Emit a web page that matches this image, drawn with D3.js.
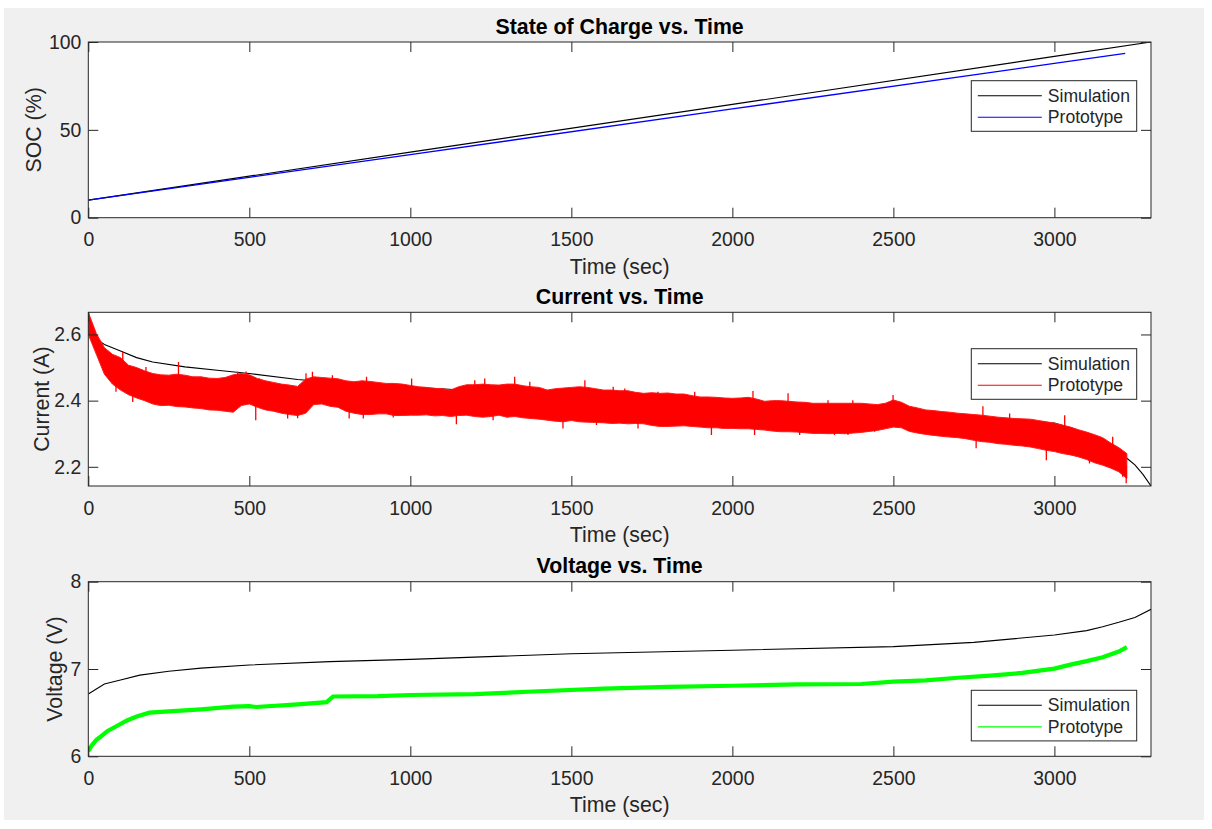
<!DOCTYPE html>
<html>
<head>
<meta charset="utf-8">
<script src="https://cdn.jsdelivr.net/npm/d3@7"></script>
<style>
  html, body { margin: 0; padding: 0; background: #ffffff; }
  svg { display: block; font-family: "Liberation Sans", Arial, Helvetica, sans-serif; }
</style>
</head>
<body>
<svg id="fig" width="1212" height="829"></svg>
<script>
// ---------- shared time axis ----------
const timeDomain = [0, 3300];
const timeTicks = [0, 500, 1000, 1500, 2000, 2500, 3000];

// ---------- State of charge (%) ----------
const socSimTime = [0, 1000, 2000, 3000, 3300];
const socSimValue = [10, 37.3, 64.5, 91.8, 100];
const socProtoTime = [0, 1000, 2000, 3000, 3220];
const socProtoValue = [10, 35.9, 61.9, 87.8, 93.5];
const socTicks = [0, 50, 100];

// ---------- Current (A) ----------
const curSimTime = [0, 50, 100, 150, 200, 300, 400, 500, 650, 800, 1000, 1200, 1500, 1800, 2000, 2300, 2500, 2800, 3000, 3050, 3100, 3150, 3200, 3225, 3250, 3275, 3300];
const curSimValue = [2.603, 2.570, 2.550, 2.530, 2.517, 2.502, 2.492, 2.482, 2.464, 2.452, 2.441, 2.430, 2.416, 2.403, 2.392, 2.376, 2.365, 2.348, 2.332, 2.318, 2.300, 2.278, 2.246, 2.226, 2.206, 2.177, 2.142];
// prototype current is noisy: upper and lower envelope of the dense trace
const curProtoTime = [
  0, 25, 50, 75, 100, 125, 150, 175, 200, 225, 250, 275, 300, 325, 350, 375, 400, 425, 450, 475,
  500, 525, 550, 575, 600, 625, 650, 675, 700, 725, 750, 775, 800, 825, 850, 875, 900, 925, 950, 975,
  1000, 1025, 1050, 1075, 1100, 1125, 1150, 1175, 1200, 1225, 1250, 1275, 1300, 1325, 1350, 1375, 1400, 1425, 1450, 1475,
  1500, 1525, 1550, 1575, 1600, 1625, 1650, 1675, 1700, 1725, 1750, 1775, 1800, 1825, 1850, 1875, 1900, 1925, 1950, 1975,
  2000, 2025, 2050, 2075, 2100, 2125, 2150, 2175, 2200, 2225, 2250, 2275, 2300, 2325, 2350, 2375, 2400, 2425, 2450, 2475,
  2500, 2525, 2550, 2575, 2600, 2625, 2650, 2675, 2700, 2725, 2750, 2775, 2800, 2825, 2850, 2875, 2900, 2925, 2950, 2975,
  3000, 3025, 3050, 3075, 3100, 3125, 3150, 3175, 3200, 3225
];
const curProtoHigh = [
  2.667, 2.603, 2.560, 2.540, 2.530, 2.507, 2.500, 2.490, 2.482, 2.478, 2.477, 2.480, 2.477, 2.472, 2.472, 2.468, 2.467, 2.470, 2.478, 2.482,
  2.478, 2.467, 2.460, 2.455, 2.450, 2.447, 2.443, 2.465, 2.472, 2.470, 2.468, 2.466, 2.460, 2.457, 2.460, 2.458, 2.455, 2.452, 2.452, 2.450,
  2.446, 2.442, 2.440, 2.437, 2.436, 2.432, 2.442, 2.448, 2.448, 2.450, 2.448, 2.447, 2.450, 2.450, 2.445, 2.442, 2.440, 2.432, 2.436, 2.438,
  2.440, 2.442, 2.440, 2.436, 2.432, 2.432, 2.430, 2.430, 2.425, 2.422, 2.424, 2.422, 2.423, 2.420, 2.420, 2.415, 2.411, 2.411, 2.410, 2.408,
  2.407, 2.408, 2.410, 2.405, 2.398, 2.400, 2.400, 2.398, 2.396, 2.395, 2.392, 2.392, 2.392, 2.392, 2.392, 2.392, 2.392, 2.390, 2.388, 2.392,
  2.402, 2.395, 2.383, 2.378, 2.372, 2.370, 2.367, 2.365, 2.362, 2.360, 2.358, 2.356, 2.353, 2.350, 2.348, 2.346, 2.345, 2.344, 2.340, 2.336,
  2.332, 2.326, 2.320, 2.312, 2.305, 2.297, 2.288, 2.272, 2.258, 2.240
];
const curProtoLow = [
  2.600, 2.540, 2.480, 2.450, 2.432, 2.418, 2.408, 2.400, 2.390, 2.385, 2.386, 2.382, 2.381, 2.378, 2.376, 2.372, 2.371, 2.368, 2.365, 2.385,
  2.390, 2.380, 2.372, 2.368, 2.362, 2.358, 2.355, 2.362, 2.388, 2.390, 2.383, 2.380, 2.368, 2.362, 2.358, 2.358, 2.360, 2.360, 2.355, 2.355,
  2.356, 2.356, 2.357, 2.354, 2.355, 2.352, 2.355, 2.356, 2.352, 2.350, 2.352, 2.356, 2.350, 2.352, 2.348, 2.346, 2.344, 2.341, 2.338, 2.336,
  2.340, 2.336, 2.335, 2.334, 2.333, 2.331, 2.332, 2.330, 2.331, 2.330, 2.325, 2.322, 2.322, 2.323, 2.324, 2.322, 2.320, 2.318, 2.318, 2.316,
  2.316, 2.315, 2.315, 2.313, 2.311, 2.308, 2.306, 2.306, 2.305, 2.303, 2.301, 2.301, 2.300, 2.301, 2.300, 2.302, 2.304, 2.307, 2.310, 2.315,
  2.320, 2.318, 2.307, 2.302, 2.298, 2.295, 2.292, 2.290, 2.288, 2.285, 2.280, 2.276, 2.274, 2.270, 2.268, 2.265, 2.263, 2.260, 2.255, 2.250,
  2.246, 2.240, 2.236, 2.230, 2.222, 2.212, 2.205, 2.196, 2.185, 2.165
];
// isolated excursions of the prototype current beyond the envelope
const curSpikeTime = [
  86, 107, 117, 138, 179, 280, 464, 490, 520, 531, 619, 650, 676, 696, 758, 810,
  854, 864, 947, 1004, 1143, 1200, 1231, 1257, 1324, 1371, 1474, 1542, 1578, 1630,
  1666, 1707, 1769, 1883, 1935, 2064, 2069, 2173, 2209, 2297, 2317, 2359, 2374, 2442,
  2499, 2757, 2778, 2861, 2975, 3032, 3109, 3181, 3212, 3223
];
const curSpikeValue = [
  2.427, 2.547, 2.427, 2.396, 2.502, 2.517, 2.487, 2.488, 2.341, 2.467, 2.346, 2.347, 2.483, 2.487, 2.477, 2.346,
  2.346, 2.472, 2.349, 2.467, 2.329, 2.462, 2.467, 2.341, 2.472, 2.457, 2.316, 2.462, 2.326, 2.442,
  2.437, 2.316, 2.427, 2.427, 2.296, 2.429, 2.296, 2.422, 2.296, 2.401, 2.296, 2.296, 2.401, 2.306,
  2.417, 2.256, 2.383, 2.361, 2.220, 2.356, 2.210, 2.291, 2.170, 2.150
];
const curDomain = [2.142, 2.667];
const curTicks = [2.2, 2.4, 2.6];

// ---------- Voltage (V) ----------
const voltSimTime = [0, 50, 100, 160, 250, 350, 500, 750, 1000, 1500, 2000, 2500, 2750, 3000, 3100, 3150, 3200, 3250, 3300];
const voltSimValue = [6.714, 6.828, 6.875, 6.930, 6.975, 7.010, 7.046, 7.084, 7.110, 7.175, 7.215, 7.256, 7.305, 7.389, 7.440, 7.485, 7.535, 7.590, 7.684];
const voltProtoTime = [0, 10, 25, 40, 60, 90, 120, 150, 190, 250, 350, 450, 500, 520, 650, 740, 760, 900, 1000, 1200, 1400, 1600, 1800, 2000, 2200, 2400, 2500, 2600, 2700, 2800, 2900, 3000, 3050, 3100, 3150, 3200, 3225];
const voltProtoValue = [6.060, 6.120, 6.190, 6.230, 6.290, 6.350, 6.410, 6.455, 6.500, 6.515, 6.538, 6.568, 6.575, 6.565, 6.595, 6.620, 6.685, 6.690, 6.702, 6.712, 6.745, 6.775, 6.795, 6.808, 6.825, 6.828, 6.855, 6.870, 6.900, 6.925, 6.955, 7.005, 7.050, 7.090, 7.135, 7.200, 7.250];
const voltDomain = [6, 8];
const voltTicks = [6, 7, 8];

const legendNames = ["Simulation", "Prototype"];

// ---------- figure layout ----------
const svg = d3.select("#fig");
const AX = "#262626";
const FONT_TICK = 19.4, FONT_LABEL = 21.3, FONT_TITLE = 21.3, FONT_LEGEND = 17.6;

svg.append("rect").attr("x", 4).attr("y", 8).attr("width", 1200).attr("height", 812).attr("fill", "#f0f0f0");

const plotLeft = 88.3, plotRight = 1151;
const x = d3.scaleLinear().domain(timeDomain).range([plotLeft, plotRight]);

const panels = [
  {
    id: "soc", top: 42, bottom: 217.7, domain: [0, 100], ticks: socTicks, fmt: d3.format("d"),
    title: "State of Charge vs. Time", ylabel: "SOC (%)", ylabelX: 41,
    protoColor: "#0000ff", legendTop: 80.7,
    draw: (g, y) => {
      const line = d3.line().x(d => x(d[0])).y(d => y(d[1]));
      g.append("path").datum(d3.zip(socSimTime, socSimValue)).attr("d", line)
        .attr("fill", "none").attr("stroke", "#000").attr("stroke-width", 1.1);
      g.append("path").datum(d3.zip(socProtoTime, socProtoValue)).attr("d", line)
        .attr("fill", "none").attr("stroke", "#0000ff").attr("stroke-width", 1.3);
    }
  },
  {
    id: "cur", top: 312.3, bottom: 486, domain: curDomain, ticks: curTicks, fmt: d3.format(".1f"),
    title: "Current vs. Time", ylabel: "Current (A)", ylabelX: 48.5,
    protoColor: "#ff0000", legendTop: 348.7,
    draw: (g, y) => {
      const line = d3.line().x(d => x(d[0])).y(d => y(d[1]));
      g.append("path").datum(d3.zip(curSimTime, curSimValue)).attr("d", line)
        .attr("fill", "none").attr("stroke", "#000").attr("stroke-width", 1.1);
      const band = d3.area().x(d => x(d[0])).y0(d => y(d[2])).y1(d => y(d[1]));
      g.append("path").datum(d3.zip(curProtoTime, curProtoHigh, curProtoLow)).attr("d", band)
        .attr("fill", "#ff0000").attr("stroke", "#ff1a1a").attr("stroke-width", 1).attr("stroke-linejoin", "miter");
      // spikes run from the middle of the envelope out to their reading
      const hiAt = d3.scaleLinear().domain(curProtoTime).range(curProtoHigh);
      const loAt = d3.scaleLinear().domain(curProtoTime).range(curProtoLow);
      g.append("g").selectAll("line").data(d3.zip(curSpikeTime, curSpikeValue)).join("line")
        .attr("x1", d => x(d[0])).attr("x2", d => x(d[0]))
        .attr("y1", d => y((hiAt(d[0]) + loAt(d[0])) / 2)).attr("y2", d => y(d[1]))
        .attr("stroke", "#ff0000").attr("stroke-width", 1.3);
    }
  },
  {
    id: "volt", top: 581.7, bottom: 756.3, domain: voltDomain, ticks: voltTicks, fmt: d3.format("d"),
    title: "Voltage vs. Time", ylabel: "Voltage (V)", ylabelX: 62,
    protoColor: "#00ff00", legendTop: 690.3,
    draw: (g, y) => {
      const line = d3.line().x(d => x(d[0])).y(d => y(d[1]));
      g.append("path").datum(d3.zip(voltSimTime, voltSimValue)).attr("d", line)
        .attr("fill", "none").attr("stroke", "#000").attr("stroke-width", 1.1);
      g.append("path").datum(d3.zip(voltProtoTime, voltProtoValue)).attr("d", line)
        .attr("fill", "none").attr("stroke", "#00ff00").attr("stroke-width", 4.2);
    }
  }
];

panels.forEach(p => {
  const y = d3.scaleLinear().domain(p.domain).range([p.bottom, p.top]);
  const w = plotRight - plotLeft, h = p.bottom - p.top;
  const g = svg.append("g");

  g.append("rect").attr("x", plotLeft).attr("y", p.top).attr("width", w).attr("height", h).attr("fill", "#fff");

  svg.append("clipPath").attr("id", "clip-" + p.id)
    .append("rect").attr("x", plotLeft).attr("y", p.top).attr("width", w).attr("height", h);
  const data = g.append("g").attr("clip-path", `url(#clip-${p.id})`);
  p.draw(data, y);

  // axes: bottom and left carry labels, top and right repeat the ticks
  const tl = 10;
  const xb = g.append("g").attr("transform", `translate(0,${p.bottom})`)
    .call(d3.axisBottom(x).tickValues(timeTicks).tickSizeInner(-tl).tickSizeOuter(0).tickPadding(15).tickFormat(d3.format("d")));
  const xt = g.append("g").attr("transform", `translate(0,${p.top})`)
    .call(d3.axisTop(x).tickValues(timeTicks).tickSizeInner(-tl).tickSizeOuter(0).tickFormat(""));
  const yl = g.append("g").attr("transform", `translate(${plotLeft},0)`)
    .call(d3.axisLeft(y).tickValues(p.ticks).tickSizeInner(-tl).tickSizeOuter(0).tickPadding(7).tickFormat(p.fmt));
  const yr = g.append("g").attr("transform", `translate(${plotRight},0)`)
    .call(d3.axisRight(y).tickValues(p.ticks).tickSizeInner(-tl).tickSizeOuter(0).tickFormat(""));
  [xb, xt, yl, yr].forEach(a => {
    a.select(".domain").remove();
    a.selectAll(".tick line").attr("stroke", AX).attr("stroke-width", 1);
    a.selectAll(".tick text").attr("fill", AX).attr("font-size", FONT_TICK)
      .attr("font-family", "'Liberation Sans', Arial, Helvetica, sans-serif");
  });
  g.append("rect").attr("x", plotLeft).attr("y", p.top).attr("width", w).attr("height", h)
    .attr("fill", "none").attr("stroke", AX).attr("stroke-width", 1);

  // title and axis labels
  g.append("text").attr("x", (plotLeft + plotRight) / 2).attr("y", p.top - 8.5)
    .attr("text-anchor", "middle").attr("font-size", FONT_TITLE).attr("font-weight", "bold")
    .attr("fill", "#000").text(p.title);
  g.append("text").attr("x", (plotLeft + plotRight) / 2).attr("y", p.bottom + 56)
    .attr("text-anchor", "middle").attr("font-size", FONT_LABEL).attr("fill", AX).text("Time (sec)");
  g.append("text").attr("transform", `translate(${p.ylabelX},${(p.top + p.bottom) / 2}) rotate(-90)`)
    .attr("text-anchor", "middle").attr("font-size", FONT_LABEL).attr("fill", AX).text(p.ylabel);

  // legend
  const lx = 971.3, lw = 165.4, lh = 50.6;
  const lg = g.append("g").attr("transform", `translate(${lx},${p.legendTop})`);
  lg.append("rect").attr("width", lw).attr("height", lh).attr("fill", "#fff").attr("stroke", AX).attr("stroke-width", 1);
  const colors = ["#000", p.protoColor];
  legendNames.forEach((name, i) => {
    const ry = 15 + i * 21.6;
    lg.append("line").attr("x1", 6.5).attr("x2", 70.5).attr("y1", ry).attr("y2", ry)
      .attr("stroke", colors[i]).attr("stroke-width", 1.1);
    lg.append("text").attr("x", 76.5).attr("y", ry).attr("dy", "0.35em")
      .attr("font-size", FONT_LEGEND).attr("fill", AX).text(name);
  });
});
</script>
</body>
</html>
